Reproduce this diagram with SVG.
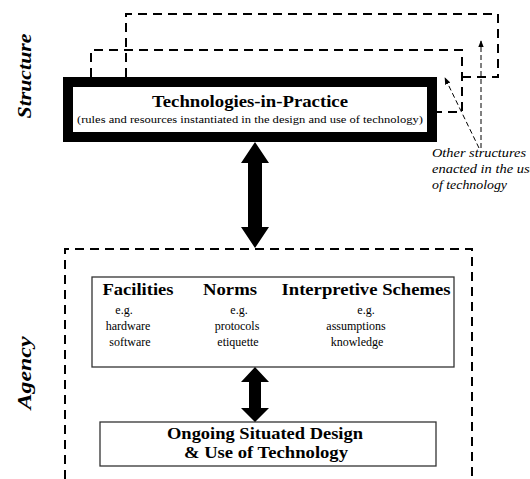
<svg xmlns="http://www.w3.org/2000/svg" width="530" height="479" viewBox="0 0 530 479" font-family="'Liberation Serif', 'DejaVu Serif', serif">
  <style>
    text { font-family: 'Liberation Serif', 'DejaVu Serif', serif; fill: #000; }
    .dash { fill: none; stroke: #000; stroke-width: 2; stroke-dasharray: 9 6; }
    .box { fill: #fff; stroke: #333; stroke-width: 1.3; }
    .title { font-size: 16px; font-weight: bold; text-anchor: middle; }
    .sub { font-size: 12px; text-anchor: middle; }
    .side { font-size: 19px; font-weight: bold; font-style: italic; text-anchor: middle; }
    .note { font-size: 12px; font-style: italic; }
    .thin { fill: none; stroke: #000; stroke-width: 1; stroke-dasharray: 5 3; }
  </style>
  <defs>
    <marker id="head" viewBox="0 0 10 10" refX="9" refY="5" markerWidth="7" markerHeight="7" orient="auto" markerUnits="userSpaceOnUse">
      <path d="M0,1 L10,5 L0,9 Z" fill="#000"/>
    </marker>
  </defs>

  <rect width="530" height="479" fill="#fff"/>

  <!-- side labels -->
  <g id="label-structure">
    <text class="side" transform="translate(31,76) rotate(-90)" textLength="85" lengthAdjust="spacingAndGlyphs">Structure</text>
  </g>
  <g id="label-agency">
    <text class="side" transform="translate(31,373) rotate(-90)" textLength="73" lengthAdjust="spacingAndGlyphs">Agency</text>
  </g>

  <!-- stacked structures behind the main one -->
  <g id="structure-back">
    <path class="dash" d="M126,77 V14 H498 V77 H462"/>
  </g>
  <g id="structure-middle">
    <path class="dash" d="M91,77 V50 H462 V112 H432"/>
  </g>

  <!-- technologies-in-practice -->
  <g id="technologies-in-practice">
    <rect x="68" y="82" width="364" height="55" fill="#fff" stroke="#000" stroke-width="10"/>
    <text class="title" x="250" y="107" textLength="196" lengthAdjust="spacingAndGlyphs">Technologies-in-Practice</text>
    <text x="250" y="123" font-size="11" text-anchor="middle" textLength="346" lengthAdjust="spacingAndGlyphs">(rules and resources instantiated in the design and use of technology)</text>
  </g>

  <!-- agency region -->
  <g id="agency">
    <path class="dash" d="M65,479 V249 H472 V479"/>
  </g>

  <g id="properties">
    <rect class="box" x="92" y="277" width="362" height="90"/>
    <text class="title" x="138" y="295" textLength="71" lengthAdjust="spacingAndGlyphs">Facilities</text>
    <text class="sub" x="124" y="314">e.g.</text>
    <text class="sub" x="128" y="330">hardware</text>
    <text class="sub" x="130" y="346">software</text>
    <text class="title" x="230" y="295" textLength="54" lengthAdjust="spacingAndGlyphs">Norms</text>
    <text class="sub" x="239" y="314">e.g.</text>
    <text class="sub" x="237" y="330">protocols</text>
    <text class="sub" x="238" y="346">etiquette</text>
    <text class="title" x="366" y="295" textLength="169" lengthAdjust="spacingAndGlyphs">Interpretive Schemes</text>
    <text class="sub" x="366" y="314">e.g.</text>
    <text class="sub" x="356" y="330">assumptions</text>
    <text class="sub" x="357" y="346">knowledge</text>
  </g>

  <g id="situated-use">
    <rect class="box" x="100" y="422" width="336" height="44"/>
    <text class="title" x="265" y="439" textLength="196" lengthAdjust="spacingAndGlyphs">Ongoing Situated Design</text>
    <text class="title" x="266" y="458" textLength="164" lengthAdjust="spacingAndGlyphs">&amp; Use of Technology</text>
  </g>

  <g id="note">
    <text class="note" x="432" y="157" textLength="94" lengthAdjust="spacingAndGlyphs">Other structures</text>
    <text class="note" x="432" y="173" textLength="104" lengthAdjust="spacingAndGlyphs">enacted in the use</text>
    <text class="note" x="432" y="189" textLength="75" lengthAdjust="spacingAndGlyphs">of technology</text>
  </g>

  <!-- connectors -->
  <g id="connectors">
    <path d="M255,142 L269,163 L262,163 L262,227 L269,227 L255,248 L241,227 L248,227 L248,163 L241,163 Z" fill="#000"/>
    <path d="M255,367 L269,382 L261,382 L261,408 L269,408 L255,422 L241,408 L249,408 L249,382 L241,382 Z" fill="#000"/>
    <line class="thin" x1="481" y1="148" x2="481" y2="41" marker-end="url(#head)"/>
    <line class="thin" x1="479" y1="148" x2="445" y2="78" stroke="#444" marker-end="url(#head)"/>
  </g>
</svg>
